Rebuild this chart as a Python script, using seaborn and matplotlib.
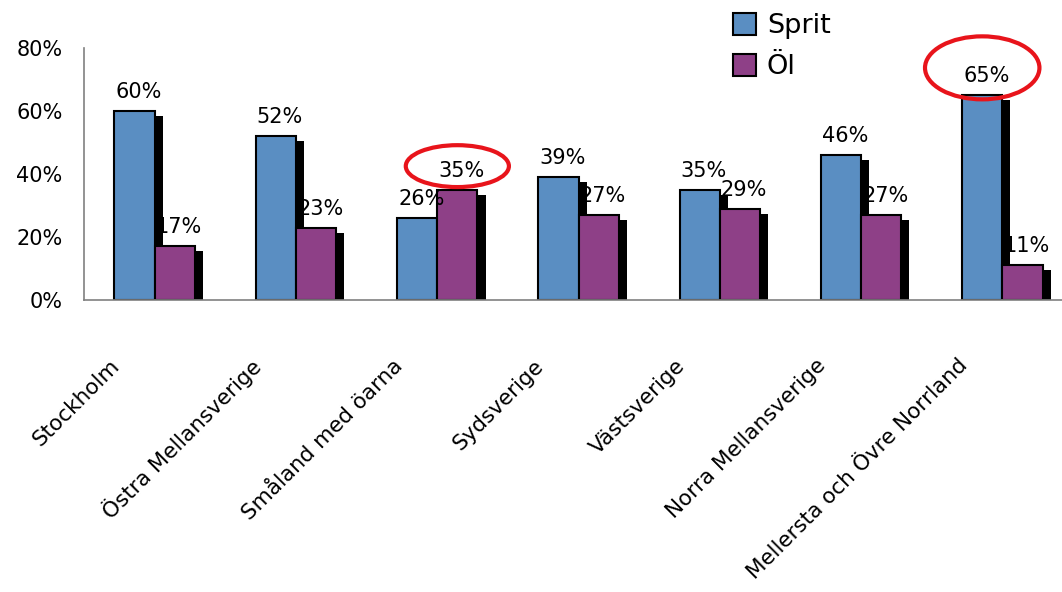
import pandas as pd
import seaborn as sns
import matplotlib.pyplot as plt
import matplotlib.patheffects as pe
from matplotlib.patches import Ellipse, Patch
from matplotlib.transforms import ScaledTranslation

# data
regions = ["Stockholm", "Östra Mellansverige", "Småland med öarna", "Sydsverige",
           "Västsverige", "Norra Mellansverige", "Mellersta och Övre Norrland"]
sprit = [60, 52, 26, 39, 35, 46, 65]
ol = [17, 23, 35, 27, 29, 27, 11]
series = ["Sprit", "Öl"]
colors = ["#5A8EC2", "#8E4087"]
# bars circled in red: (region index, series index)
circled = [(2, 1), (6, 0)]

df = pd.DataFrame({
    "region": regions * 2,
    "typ": [series[0]] * len(regions) + [series[1]] * len(regions),
    "value": sprit + ol,
})

sns.set_style("white")
plt.rcParams["font.family"] = ["DejaVu Sans"]
plt.rcParams["text.color"] = "black"
plt.rcParams["xtick.color"] = "black"
plt.rcParams["ytick.color"] = "black"
plt.rcParams["xtick.labelcolor"] = "black"
plt.rcParams["ytick.labelcolor"] = "black"

fig = plt.figure(figsize=(10.62, 5.92), dpi=100)
ax = fig.add_axes([84 / 1062, 292 / 592, 989 / 1062, 252 / 592])

sns.barplot(data=df, x="region", y="value", hue="typ", palette=colors, saturation=1,
            width=0.57, edgecolor="black", linewidth=1.5, legend=False, ax=ax)

ax.set_xlim(-0.5, 6.5)
ax.set_ylim(0, 80)
ax.set_yticks([0, 20, 40, 60, 80])
ax.set_yticklabels([f"{v}%" for v in [0, 20, 40, 60, 80]], fontsize=15)
ax.set_xlabel("")
ax.set_ylabel("")

for s in ["top", "right"]:
    ax.spines[s].set_visible(False)
for s in ["left", "bottom"]:
    ax.spines[s].set_color("#808080")
    ax.spines[s].set_linewidth(1.2)

ax.tick_params(axis="y", length=6.5, width=1.2, color="#808080", pad=9)
ax.set_xticks([i - 0.5 for i in range(len(regions) + 1)], minor=True)
ax.tick_params(axis="x", which="minor", length=6, width=1.2, color="#808080", direction="out")
ax.tick_params(axis="x", which="major", length=0, pad=45)
ax.set_xticks(range(len(regions)))
ax.set_xticklabels(regions, rotation=45, ha="right", va="center",
                   rotation_mode="anchor", fontsize=15.5)
shift = ScaledTranslation(-0.38, 0, fig.dpi_scale_trans)
for lab in ax.get_xticklabels():
    lab.set_transform(lab.get_transform() + shift)

# bar shadows + value labels
shadow = [pe.SimplePatchShadow(offset=(5.8, -3.6), shadow_rgbFace="black", alpha=1.0),
          pe.Normal()]
for ci, cont in enumerate(ax.containers):
    for bi, bar in enumerate(cont):
        bar.set_path_effects(shadow)
        x = bar.get_x() + bar.get_width() / 2
        h = bar.get_height()
        ax.annotate(f"{h:.0f}%", (x, h), xytext=(3, 6.5), textcoords="offset points",
                    ha="center", va="bottom", fontsize=15)
        if (bi, ci) in circled:
            big = h > 60
            ax.add_patch(Ellipse((x, h + (8.7 if big else 7.5)),
                                 0.81 if big else 0.73, 20 if big else 13.3,
                                 fill=False, edgecolor="#E8141B", linewidth=3,
                                 clip_on=False, zorder=5))

handles = [Patch(facecolor=c, edgecolor="black", linewidth=1.5) for c in colors]
fig.legend(handles, series, loc="upper left", bbox_to_anchor=(733 / 1062, 1 - 13 / 592),
           frameon=False, fontsize=19.5, handlelength=0.85, handleheight=0.85,
           handletextpad=0.4, labelspacing=0.55, borderpad=0, borderaxespad=0)

fig.savefig("out.png", dpi=100)
